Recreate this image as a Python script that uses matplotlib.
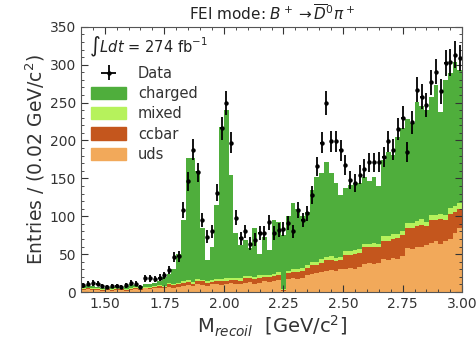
import numpy as np
import matplotlib
matplotlib.use("Agg")
import matplotlib.pyplot as plt
from matplotlib.patches import Patch

# binning: 80 bins of 0.02 GeV/c^2 between 1.4 and 3.0
edges = np.linspace(1.4, 3.0, 81)
centers = 0.5 * (edges[:-1] + edges[1:])

data = [9, 11, 12, 11, 8, 7, 8, 8, 7, 9,
        12, 11, 7, 18, 18, 17, 19, 22, 29, 46,
        47, 108, 146, 188, 158, 95, 73, 80, 131, 216,
        249, 197, 98, 71, 80, 64, 69, 78, 78, 92,
        78, 82, 83, 91, 80, 108, 95, 104, 128, 166,
        197, 250, 199, 199, 187, 168, 148, 144, 155, 163,
        171, 171, 172, 178, 199, 188, 215, 230, 185, 224,
        267, 258, 247, 277, 291, 265, 302, 303, 313, 309]

uds = [3, 4, 3, 3, 2, 3, 2, 3, 3, 2,
       3, 4, 3, 5, 4, 5, 6, 5, 7, 6,
       7, 8, 9, 8, 10, 9, 8, 10, 11, 9,
       10, 12, 11, 10, 12, 13, 11, 12, 14, 13,
       15, 16, 2, 17, 18, 17, 19, 22, 24, 25,
       27, 28, 29, 28, 30, 31, 32, 30, 33, 37,
       38, 37, 39, 44, 42, 45, 44, 47, 58, 57,
       60, 59, 62, 65, 67, 64, 68, 70, 78, 85]

ccbar = [1, 1, 1, 1, 1, 1, 1, 1, 1, 1,
         1, 2, 1, 1, 2, 2, 2, 2, 3, 3,
         3, 4, 4, 3, 4, 5, 4, 3, 4, 5,
         5, 4, 5, 5, 6, 5, 6, 7, 6, 7,
         6, 7, 1, 8, 9, 10, 9, 10, 12, 11,
         12, 14, 13, 13, 12, 18, 17, 20, 19, 22,
         21, 23, 20, 24, 26, 25, 27, 28, 26, 28,
         27, 30, 25, 30, 28, 32, 27, 33, 28, 25]

mixed = [1, 1, 1, 1, 1, 1, 1, 1, 1, 1,
         1, 1, 1, 1, 1, 1, 1, 1, 2, 2,
         2, 2, 3, 2, 3, 2, 2, 3, 2, 3,
         3, 2, 3, 3, 3, 3, 3, 3, 3, 3,
         3, 3, 1, 3, 4, 4, 4, 4, 4, 4,
         4, 4, 5, 4, 4, 5, 5, 5, 5, 5,
         5, 5, 5, 6, 6, 6, 6, 6, 7, 6,
         7, 7, 6, 7, 7, 7, 7, 8, 8, 7]

charged = [3, 3, 3, 2, 2, 1, 3, 2, 1, 4,
           5, 2, 3, 3, 4, 4, 5, 12, 12, 19,
           38, 81, 161, 164, 143, 69, 28, 44, 98, 201,
           222, 137, 59, 44, 48, 37, 64, 28, 50, 32,
           71, 66, 71, 72, 87, 79, 68, 70, 95, 112,
           114, 125, 110, 99, 82, 83, 87, 89, 87, 88,
           82, 87, 76, 100, 111, 105, 128, 135, 137, 132,
           157, 149, 147, 156, 171, 135, 178, 178, 189, 176]

colors = ["#f2a95a", "#c4561d", "#b6f25c", "#4fae3c"]
txt = "#333333"

fig = plt.figure(figsize=(4.76, 3.44), dpi=100)
ax = fig.add_axes([0.170, 0.151, 0.801, 0.771])

ax.hist([centers] * 4, bins=edges, weights=[uds, ccbar, mixed, charged],
        stacked=True, histtype="stepfilled", color=colors, linewidth=0)

eb = ax.errorbar(centers, data, yerr=np.sqrt(data), xerr=0.005, fmt="o",
                 color="black", markersize=2.2, elinewidth=1.3, capsize=0)

ax.set_xlim(1.4, 3.0)
ax.set_ylim(0, 350)
ax.set_xticks([1.50, 1.75, 2.00, 2.25, 2.50, 2.75, 3.00])
ax.set_yticks(range(0, 351, 50))
ax.minorticks_on()
ax.tick_params(which="both", direction="in", top=True, right=True,
               labelsize=10, colors=txt)
ax.tick_params(which="major", length=5)
ax.tick_params(which="minor", length=2.5)
for s in ax.spines.values():
    s.set_color("#555555")

ax.set_title(r"FEI mode: $B^+ \to \overline{D}^0\pi^+$", fontsize=11, pad=4,
             color="#222222")
ax.set_xlabel(r"M$_{recoil}$  [GeV/c$^2$]", fontsize=14, labelpad=2, color=txt)
ax.set_ylabel(r"Entries / (0.02 GeV/c$^2$)", fontsize=13.5, labelpad=2,
              color=txt)

ax.text(0.02, 0.905, r"$\int Ldt$ = 274 fb$^{-1}$", transform=ax.transAxes,
        fontsize=10.5, color="#222222")

handles = [eb, Patch(color=colors[3]), Patch(color=colors[2]),
           Patch(color=colors[1]), Patch(color=colors[0])]
names = ["Data", "charged", "mixed", "ccbar", "uds"]
leg = ax.legend(handles, names, loc="upper left", bbox_to_anchor=(0.0, 0.89),
                frameon=False, fontsize=10.5, handlelength=2.4,
                handleheight=0.9, labelspacing=0.35, borderaxespad=0.3)
for t in leg.get_texts():
    t.set_color(txt)

fig.savefig("out.png", dpi=100)
